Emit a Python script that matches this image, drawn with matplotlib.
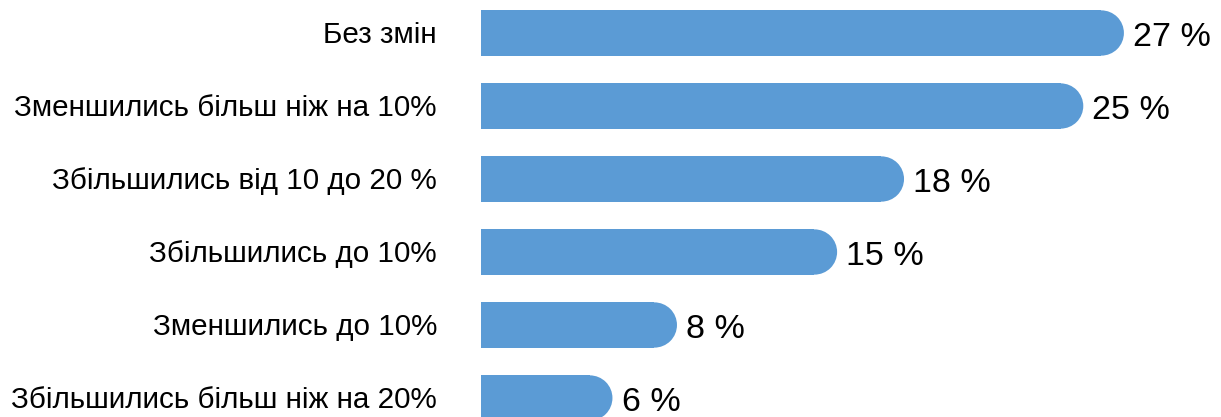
import matplotlib
matplotlib.use("Agg")
import matplotlib.pyplot as plt
from matplotlib.patches import Rectangle, Ellipse

categories = ["Без змін", "Зменшились більш ніж на 10%", "Збільшились від 10 до 20 %",
              "Збільшились до 10%", "Зменшились до 10%", "Збільшились більш ніж на 20%"]
values = [26.9, 25.2, 17.7, 14.9, 8.2, 5.5]
value_labels = ["27 %", "25 %", "18 %", "15 %", "8 %", "6 %"]

W, H = 1221, 417
fig = plt.figure(figsize=(W / 100, H / 100), dpi=100)
ax_left = 481 / W
ax = fig.add_axes([ax_left, 0, 1 - ax_left, 1])
color = "#5B9BD5"
xmax = 740 / 23.9
ax.set_xlim(0, xmax)
ax.set_ylim((417 - 33) / 73, -33 / 73)
ax.axis("off")

pos = list(range(len(categories)))
bars = ax.barh(pos, values, height=0.62, color=color)

px_per_x = (W * (1 - ax_left)) / xmax
px_per_y = 73.0
for rect in bars:
    x, y, w, h = rect.get_x(), rect.get_y(), rect.get_width(), rect.get_height()
    R = h / 2 * px_per_y
    rx = R / px_per_x
    ax.add_patch(Rectangle((x, y), w - rx, h, facecolor=color, edgecolor="none"))
    ax.add_patch(Ellipse((x + w - rx, y + h / 2), 2 * rx, h,
                         facecolor=color, edgecolor="none"))
    rect.set_visible(False)

font = "Liberation Sans"
for i, (c, v, lab) in enumerate(zip(categories, values, value_labels)):
    fig.text(437 / W, 1 - (35 + 73 * i) / H, c, ha="right", va="center",
             fontsize=21.3, family=font, color="black")
    ax.text(v + 0.38, i + 0.06, lab, ha="left", va="center", fontsize=24.5,
            family=font, color="black")

fig.savefig("out.png", dpi=100)
